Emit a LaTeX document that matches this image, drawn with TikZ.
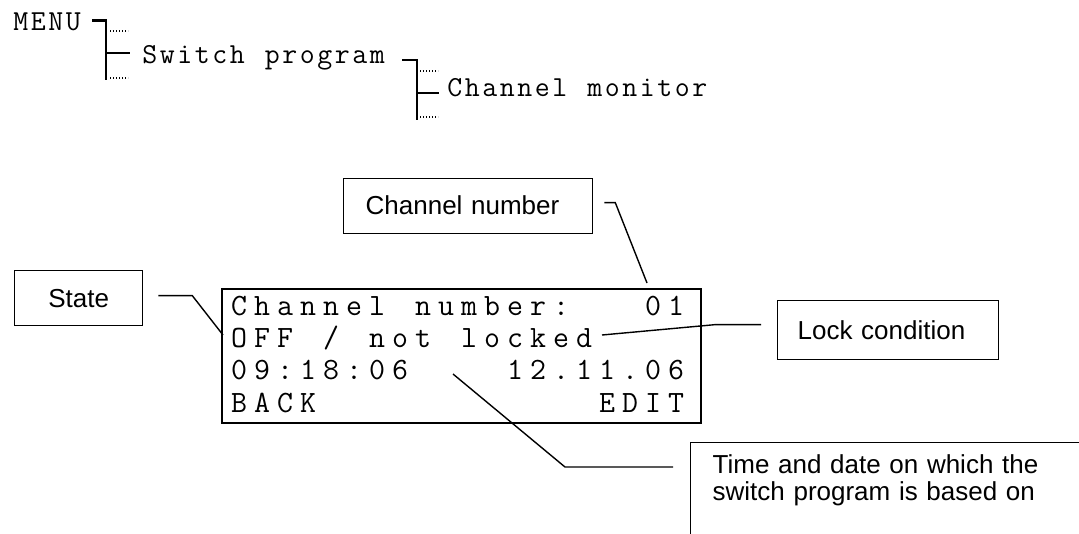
\documentclass[tikz,border=0pt]{standalone}
\usepackage{fontspec}
\usetikzlibrary{positioning}
\newfontfamily\labelface{Liberation Sans}
\newlength\cellw
\def\cellrow#1{\ifx#1\relax\else\makebox[\cellw][c]{#1}\expandafter\cellrow\fi}
\newcommand\menufont{\ttfamily\fontsize{29pt}{30pt}\selectfont\setlength\cellw{17.5pt}}
\newcommand\lcdfont{\ttfamily\fontsize{31pt}{32pt}\selectfont\setlength\cellw{23pt}}
\newcommand\labelfont{\labelface\fontsize{26pt}{27pt}\selectfont}

\begin{document}
\begin{tikzpicture}[x=1pt,y=-1pt,
  menuitem/.style={inner sep=0pt,anchor=base west,font=\menufont},
  treebar/.style={line width=2.6pt},
  treedots/.style={line width=1.1pt,dash pattern=on 1.1pt off 1.9pt},
  display/.style={draw,line width=2pt,anchor=north west,inner sep=0pt},
  lcdrow/.style={inner sep=0pt,anchor=base west,font=\lcdfont},
  callout/.style={draw,line width=1.3pt,anchor=north west,inner sep=0pt,font=\labelfont},
  leader/.style={line width=1.4pt}
]
\useasboundingbox (0,0) rectangle (1079,533);
\clip (0,0) rectangle (1079,533);

\node[menuitem] (menu) at (12,30) {\cellrow MENU\relax};
\node[menuitem] (switch) at (141,63.5) {\cellrow Switch~program\relax};
\node[menuitem] (monitor) at (446,96.7) {\cellrow Channel~monitor\relax};
\draw[treebar] ([xshift=10pt]menu.east |- 0,20.7) -| (106,80);
\draw[treebar] (106,53) -- ([xshift=-11pt]switch.west |- 0,53);
\draw[treedots] (110,31) -- ++(18,0);
\draw[treedots] (110,78) -- ++(18,0);
\draw[treebar] ([xshift=16pt]switch.east |- 0,60) -| (417,120);
\draw[treebar] (417,93) -- ([xshift=-7pt]monitor.west |- 0,93);
\draw[treedots] (420,71) -- ++(18,0);
\draw[treedots] (420,117) -- ++(18,0);

\node[display,minimum width=479pt,minimum height=134pt] (lcd) at (221,288) {};
\node[lcdrow] (row1) at (227.5,315) {\cellrow Channel~number:~~~01\relax};
\node[lcdrow] (row2) at (227.5,347.3) {\cellrow OFF~/~not~locked\relax};
\node[lcdrow] (row3) at (227.5,379.7) {\cellrow 09:18:06~~~~12.11.06\relax};
\node[lcdrow] (row4) at (227.5,412) {\cellrow BACK~~~~~~~~~~~~EDIT\relax};

\node[callout,text width=205pt,align=left,inner xsep=22pt,minimum height=55pt] (chnum) at (343,177.5) {Channel number};
\node[callout,minimum width=128pt,minimum height=55pt] (state) at (14,270) {State};
\node[callout,text width=181pt,align=left,inner xsep=20pt,minimum height=59pt] (lock) at (777,300) {Lock condition};
\node[callout,text width=380pt,align=left,inner xsep=22pt,inner ysep=12pt,text depth=80pt] (time) at (690,442)
  {Time and date on which the\\switch program is based on};

\coordinate (chpt) at (647,283);
\coordinate (statept) at (223,335);
\coordinate (lockpt) at (602,335);
\coordinate (timept) at (453,374);

\draw[leader] ([xshift=11pt,yshift=3pt]chnum.east) -- ++(11,0) -- (chpt);
\draw[leader] ([xshift=15pt,yshift=2.5pt]state.east) -- ++(34,0) -- (statept);
\draw[leader] ([xshift=-16pt,yshift=5.5pt]lock.west) -- ++(-46,0) -- (lockpt);
\draw[leader] ([xshift=-17pt]time.north west |- 0,467) -- ++(-108,0) -- (timept);
\end{tikzpicture}
\end{document}
